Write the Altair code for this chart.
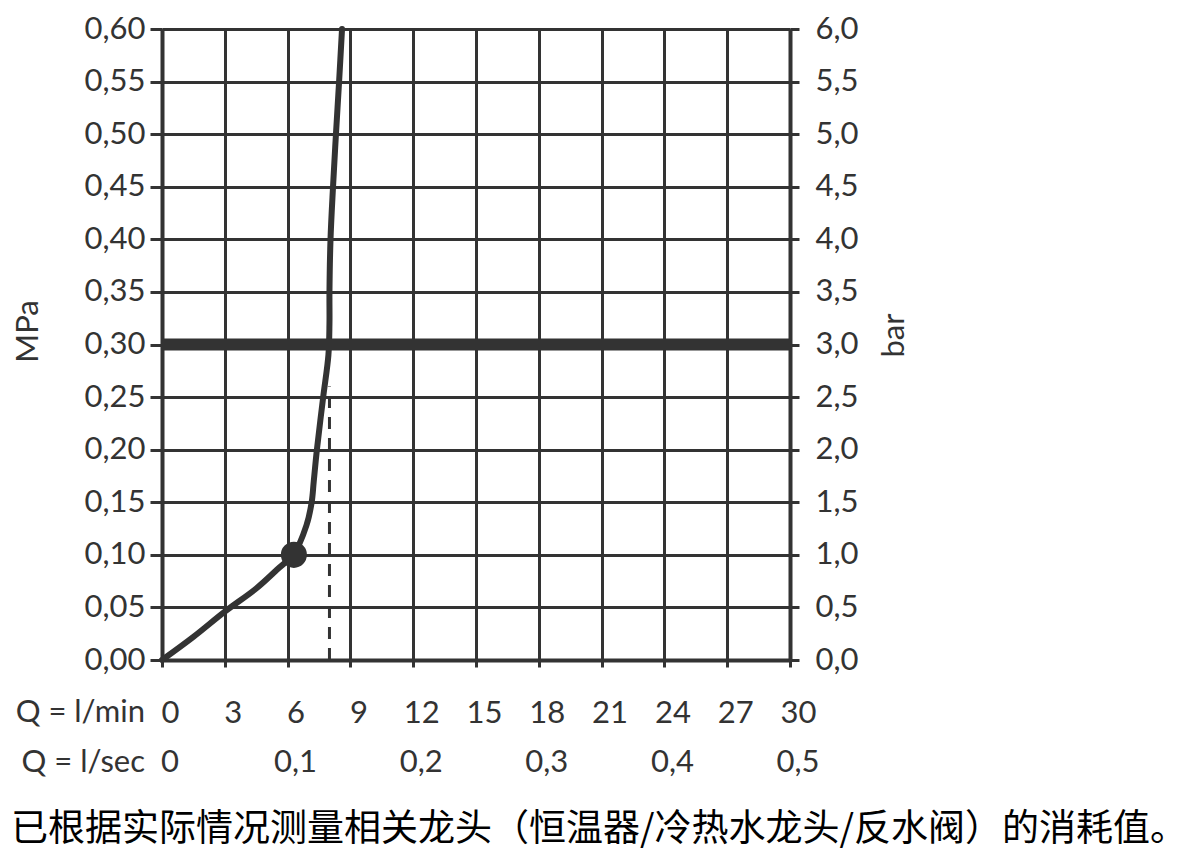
import altair as alt
import pandas as pd

INK = "#333333"
FONT = "Lato"
FS = 31

# Flow curve (x = flow in l/min, y = pressure in MPa)
flow_lpm = [0.0, 1.5, 3.0, 4.5, 5.5, 6.3, 6.9, 7.15, 7.25, 7.4, 7.7, 7.95, 8.0, 8.0, 8.05, 8.17, 8.31, 8.46, 8.6]
pressure_mpa = [0.0, 0.022, 0.046, 0.068, 0.086, 0.101, 0.128, 0.15, 0.17, 0.2, 0.25, 0.29, 0.32, 0.35, 0.40, 0.45, 0.50, 0.55, 0.60]

# Marked operating point
dot_flow = [6.3]
dot_mpa = [0.10]

# Dashed reference flow at 0.3 MPa
dash_flow = [8.0]
dash_bottom = [0.0]
dash_top = [0.26]

# Reference pressure (bar)
ref_bar = [3.0]

# Axis ticks
x_ticks = [0, 3, 6, 9, 12, 15, 18, 21, 24, 27, 30]
y_ticks_mpa = [0.0, 0.05, 0.10, 0.15, 0.20, 0.25, 0.30, 0.35, 0.40, 0.45, 0.50, 0.55, 0.60]
y_ticks_bar = [0.0, 0.5, 1.0, 1.5, 2.0, 2.5, 3.0, 3.5, 4.0, 4.5, 5.0, 5.5, 6.0]

# Second row of flow labels (l/sec) placed at their l/min positions
sec_pos = [0, 6, 12, 18, 24, 30]
sec_labels = ["0", "0,1", "0,2", "0,3", "0,4", "0,5"]

row_labels = ["Q = l/min", "Q = l/sec"]
caption = ["已根据实际情况测量相关龙头（恒温器/冷热水龙头/反水阀）的消耗值。"]

W, H = 628, 631
TOP = 21

xscale = alt.Scale(domain=[0, 30], nice=False, zero=False)
yscale = alt.Scale(domain=[0, 0.6], nice=False, zero=False)

x_axis = alt.Axis(
    values=x_ticks, title=None, grid=True, gridColor=INK, gridWidth=3, gridOpacity=1,
    domain=True, domainColor=INK, domainWidth=4,
    ticks=True, tickColor=INK, tickWidth=3, tickSize=7,
    labelFont=FONT, labelFontSize=FS, labelColor=INK, labelOffset=8,
    labelBaseline="middle", labelPadding=46, labelOverlap=False, labelFlush=False,
)
y_axis = alt.Axis(
    values=y_ticks_mpa, grid=True, gridColor=INK, gridWidth=3, gridOpacity=1,
    domain=True, domainColor=INK, domainWidth=4,
    ticks=True, tickColor=INK, tickWidth=3, tickSize=12,
    labelFont=FONT, labelFontSize=FS, labelColor=INK, labelPadding=5,
    labelOverlap=False, labelFlush=False,
    labelExpr="replace(format(datum.value, '.2f'), '.', ',')",
    title="MPa", titleFont=FONT, titleFontSize=FS, titleFontWeight="normal", titleColor=INK,
    titleAngle=270, titleAlign="center", titleBaseline="middle", titleX=-134, titleY=331 - 8 - TOP,
)

curve_df = pd.DataFrame({"flow": flow_lpm, "mpa": pressure_mpa, "i": list(range(len(flow_lpm)))})
curve = alt.Chart(curve_df).mark_line(color=INK, strokeWidth=6, interpolate="catmull-rom", strokeCap="round").encode(
    x=alt.X("flow:Q", scale=xscale, axis=x_axis),
    y=alt.Y("mpa:Q", scale=yscale, axis=y_axis),
    order="i:Q",
)

dash_df = pd.DataFrame({"flow": dash_flow, "mpa": dash_bottom, "mpa2": dash_top})
dashed = alt.Chart(dash_df).mark_rule(color=INK, strokeWidth=3, strokeDash=[12, 9]).encode(
    x=alt.X("flow:Q", scale=xscale),
    y=alt.Y("mpa:Q", scale=yscale),
    y2="mpa2:Q",
)

dot_df = pd.DataFrame({"flow": dot_flow, "mpa": dot_mpa})
dot = alt.Chart(dot_df).mark_circle(color=INK, size=680, opacity=1).encode(
    x=alt.X("flow:Q", scale=xscale),
    y=alt.Y("mpa:Q", scale=yscale),
)

sec_df = pd.DataFrame({"flow": sec_pos, "label": sec_labels})
sec_text = alt.Chart(sec_df).mark_text(
    font=FONT, fontSize=FS, color=INK, align="center", baseline="middle", dx=8
).encode(
    x=alt.X("flow:Q", scale=xscale),
    y=alt.value(763 - 8 - TOP),
    text="label:N",
)

row_df = pd.DataFrame({"label": row_labels, "ypix": [713 - 8 - TOP, 763 - 8 - TOP]})
row_text = alt.Chart(row_df).mark_text(
    font=FONT, fontSize=FS, color=INK, align="right", baseline="middle"
).encode(
    x=alt.value(-17),
    y=alt.Y("ypix:Q", scale=None),
    text="label:N",
)

cap_df = pd.DataFrame({"label": caption})
cap_text = alt.Chart(cap_df).mark_text(
    font="Noto Sans CJK SC", fontSize=37, color="#000000", align="left", baseline="middle"
).encode(
    x=alt.value(-151),
    y=alt.value(830 - 8 - TOP),
    text="label:N",
)

left = alt.layer(curve, dashed, dot, sec_text, row_text, cap_text)

bar_df = pd.DataFrame({"bar": ref_bar})
bar_rule = alt.Chart(bar_df).mark_rule(color=INK, strokeWidth=12).encode(
    y=alt.Y(
        "bar:Q",
        scale=alt.Scale(domain=[0, 6], nice=False, zero=False),
        axis=alt.Axis(
            orient="right", values=y_ticks_bar, grid=False,
            domain=True, domainColor=INK, domainWidth=4,
            ticks=True, tickColor=INK, tickWidth=3, tickSize=9,
            labelFont=FONT, labelFontSize=FS, labelColor=INK, labelPadding=16,
            labelOverlap=False, labelFlush=False,
            labelExpr="replace(format(datum.value, '.1f'), '.', ',')",
            title="bar", titleFont=FONT, titleFontSize=FS, titleFontWeight="normal", titleColor=INK,
            titleAngle=270, titleAlign="center", titleBaseline="middle", titleX=104, titleY=335 - 8 - TOP,
        ),
    ),
)

chart = alt.layer(left, bar_rule).resolve_scale(y="independent").resolve_axis(y="independent").properties(
    width=W, height=H,
    autosize=alt.AutoSizeParams(type="none"),
    padding={"left": 154, "top": TOP, "right": 400, "bottom": 194},
    background="white",
).configure_view(stroke=None)

chart.save("out.html", embed_options={"renderer": "svg", "actions": False})
